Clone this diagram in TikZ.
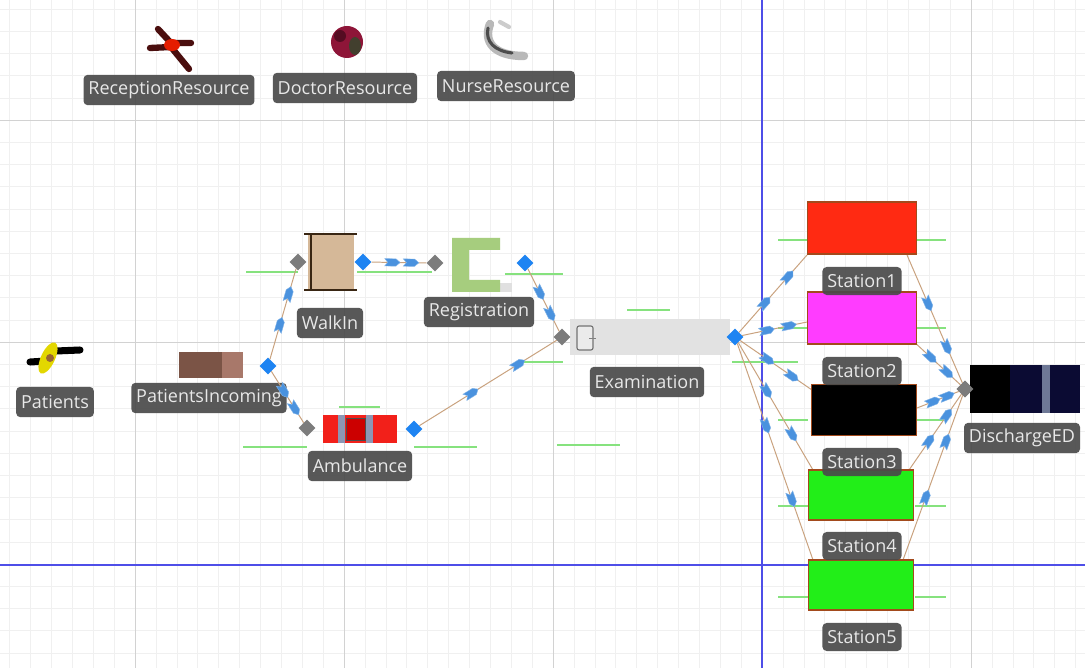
\documentclass[tikz,border=0pt]{standalone}
\usepackage{fontspec}
\setsansfont{Open Sans}
\usepackage{tikz}
\usetikzlibrary{shapes.geometric,decorations.markings,calc}

\definecolor{gridminor}{HTML}{F0F0F0}
\definecolor{gridmajor}{HTML}{D2D2D2}
\definecolor{axisblue}{HTML}{4E4EE8}
\definecolor{lblgray}{HTML}{4A4A4A}
\definecolor{lbltext}{HTML}{E8E8E8}
\definecolor{portblue}{HTML}{1E84F2}
\definecolor{portgray}{HTML}{7C7C7C}
\definecolor{linktan}{HTML}{C9A27E}
\definecolor{markblue}{HTML}{4A92DE}
\definecolor{zonegreen}{HTML}{86E27E}
\definecolor{stborder}{HTML}{A34A1C}
\definecolor{walktan}{HTML}{D5B898}
\definecolor{reggreen}{HTML}{A6CD7E}
\definecolor{examgray}{HTML}{E2E2E2}
\definecolor{ambred}{HTML}{F2201A}
\definecolor{ambstripe}{HTML}{8C96B4}
\definecolor{dischnavy}{HTML}{0B0B33}
\definecolor{dischstripe}{HTML}{6E7896}
\definecolor{incdark}{HTML}{7B5446}
\definecolor{inclight}{HTML}{A8786A}
\definecolor{stred}{HTML}{FF2A12}
\definecolor{stmagenta}{HTML}{FF3CFF}
\definecolor{stgreen}{HTML}{22EE18}
\definecolor{docred}{HTML}{8E1538}
\definecolor{recdark}{HTML}{4A0E0E}

% little arrow sitting on a flow connector
\newcommand{\flowmark}{%
  \fill[markblue,draw=markblue!70!white,line width=0.3pt]
    (-5.5pt,-2.6pt) -- (2.5pt,-2.6pt) -- (5.5pt,0) -- (2.5pt,2.6pt) -- (-5.5pt,2.6pt) -- (-3.2pt,0) -- cycle;}

\begin{document}
\begin{tikzpicture}[
    x=0.025cm, y=-0.025cm,
    lbl/.style={
        rectangle,
        rounded corners=3pt,
        fill=lblgray,
        fill opacity=0.92,
        text opacity=1,
        text=lbltext,
        font=\sffamily\fontsize{12.8}{14}\selectfont,
        minimum height=0.76cm,
        inner xsep=3.5pt
    },
    inport/.style={
        diamond,
        fill=portgray,
        minimum size=0.42cm,
        inner sep=0pt
    },
    outport/.style={
        diamond,
        fill=portblue,
        minimum size=0.42cm,
        inner sep=0pt
    },
    station/.style={
        rectangle,
        draw=stborder,
        line width=0.8pt,
        fill=#1,
        minimum width=2.72cm,
        minimum height=1.3cm,
        inner sep=0pt
    },
    link/.style={
        draw=linktan,
        line width=0.7pt,
        postaction={decorate},
        decoration={markings,
            mark=at position 0.38 with {\flowmark},
            mark=at position 0.72 with {\flowmark}}
    },
    zone/.style={
        draw=zonegreen,
        line width=0.9pt
    }
]

\useasboundingbox (0,0) rectangle (1085,668);
\fill[white] (0,0) rectangle (1085,668);

% ---- Background grid ----
\foreach \k in {-6,...,45}
    \draw[gridminor] ({135+\k*20.9},0) -- ({135+\k*20.9},668);
\foreach \k in {-5,...,24}
    \draw[gridminor] (0,{120+\k*22.2}) -- (1085,{120+\k*22.2});
\foreach \gx in {135,344,553,971}
    \draw[gridmajor] (\gx,0) -- (\gx,668);
\foreach \gy in {120,342}
    \draw[gridmajor] (0,\gy) -- (1085,\gy);
\draw[axisblue,line width=0.8pt] (762,0) -- (762,668);
\draw[axisblue,line width=0.8pt] (0,565) -- (1085,565);

% ---- Green guide lines ----
\draw[zone] (246,272) -- (298,272);
\draw[zone] (357,272) -- (432,272);
\draw[zone] (505,274) -- (563,274);
\draw[zone] (243,447) -- (307,447);
\draw[zone] (414,447) -- (477,447);
\draw[zone] (339,407) -- (380,407);
\draw[zone] (520,362) -- (563,362);
\draw[zone] (627,310) -- (670,310);
\draw[zone] (732,362) -- (798,362);
\draw[zone] (557,445) -- (620,445);
\foreach \gy in {240,328,420,506,597} {
    \draw[zone] (778,\gy) -- (808,\gy);
    \draw[zone] (915,\gy) -- (946,\gy);
}

% ---- Resources ----
% reception
\draw[recdark,line width=4.5pt,line cap=round] (158,29) -- (171,43) -- (191,43);
\draw[recdark,line width=4.5pt,line cap=round] (150,48) -- (171,47) -- (189,69);
\fill[red!75!orange!90!black] (172,45) ellipse (8 and 6);
% doctor
\fill[docred] (347,42) circle (16);
\fill[docred!60!black] (340,36) circle (6);
\fill[black!70!olive] (355,46) ellipse (6 and 9);
% nurse
\draw[gray!55,line width=6pt,line cap=round] (490,24) .. controls (483,42) and (494,56) .. (524,56);
\draw[black!70,line width=2.2pt,line cap=round] (488,28) .. controls (485,42) and (495,51) .. (512,53);
\draw[gray!40,line width=3pt,line cap=round] (500,22) -- (509,27);

\node[lbl] (recLbl)   at (169,90) {ReceptionResource};
\node[lbl] (docLbl)   at (345,88) {DoctorResource};
\node[lbl] (nurseLbl) at (506,86) {NurseResource};

% ---- Source side ----
\draw[black,line width=5pt,line cap=round] (30,362) -- (47,361);
\draw[black,line width=5pt,line cap=round] (56,351) -- (80,350);
\fill[yellow!75!olive,rotate around={-25:(48,358)}] (48,358) ellipse (7 and 17);
\fill[brown!80!black] (50,358) circle (4);
\node[lbl] (patLbl) at (55,402) {Patients};

\node[rectangle,fill=incdark,minimum width=1.58cm,minimum height=0.65cm,inner sep=0pt] (pinc) at (211,365) {};
\fill[inclight] ($(pinc.north east)+(-21,0)$) rectangle (pinc.south east);
\node[lbl] (pincLbl) at (209,398) {PatientsIncoming};
\node[outport] (pincOut) at (268,366) {};

% ---- Walk-in and registration ----
\node[rectangle,fill=walktan,minimum width=1.15cm,minimum height=1.4cm,inner sep=0pt] (walkin) at (331,262) {};
\draw[black!70!brown,line width=1.6pt] (304,234) -- (357,234);
\draw[black!70!brown,line width=1.6pt] (304,290) -- (357,290);
\draw[black!70!brown,line width=1pt] (311,234) -- (311,290);
\node[lbl] (walkLbl) at (330,323) {WalkIn};
\node[inport]  (walkIn)  at (298,262) {};
\node[outport] (walkOut) at (363,262) {};

\fill[black!12] (496,283) rectangle (512,292);
\fill[reggreen] (452,238) -- (500,238) -- (500,250) -- (469,250) -- (469,280)
    -- (500,280) -- (500,292) -- (452,292) -- cycle;
\node[lbl] (regLbl) at (479,312) {Registration};
\node[inport]  (regIn)  at (435,263) {};
\node[outport] (regOut) at (525,263) {};

% ---- Ambulance ----
\node[rectangle,fill=ambred,minimum width=1.85cm,minimum height=0.7cm,inner sep=0pt] (amb) at (360,429) {};
\fill[ambstripe] (338,415) rectangle (345,443);
\fill[ambstripe] (366,415) rectangle (373,443);
\draw[black!70,fill=red!80!black] (346,418) rectangle (365,440);
\node[lbl] (ambLbl) at (360,466) {Ambulance};
\node[inport]  (ambIn)  at (307,428) {};
\node[outport] (ambOut) at (414,429) {};

% ---- Examination ----
\node[rectangle,fill=examgray,minimum width=4cm,minimum height=0.88cm,inner sep=0pt] (exam) at (650,337) {};
\draw[gray!90!black,fill=white!92!black,rounded corners=1.5pt,line width=0.8pt] (577,326) rectangle (593,350);
\draw[gray,line width=0.6pt] (589,338) -- (596,338);
\node[lbl] (examLbl) at (647,382) {Examination};
\node[inport]  (examIn)  at (562,337) {};
\node[outport] (examOut) at (735,337) {};

% ---- Treatment stations ----
\coordinate (s1) at (862,228);
\coordinate (s2) at (862,318);
\coordinate (s3) at (864,410);
\coordinate (s4) at (861,495);
\coordinate (s5) at (861,585);

% ---- Flows (under the station blocks) ----
\draw[link] (pincOut) -- (walkIn);
\draw[link] (pincOut) -- (ambIn);
\draw[link] (walkOut) -- (regIn);
\draw[link] (regOut)  -- (examIn);
\draw[link] (ambOut)  -- (examIn);

\draw[link] (examOut) -- ($(s1)+(-55,27)$);
\draw[link] (examOut) -- ($(s2)+(-55,4)$);
\draw[link] (examOut) -- ($(s3)+(-52,-20)$);
\draw[link] (examOut) -- ($(s4)+(-48,-25)$);
\draw[link] (examOut) -- ($(s5)+(-48,-25)$);

\node[inport] (dischIn) at (965,389) {};
\draw[link] ($(s1)+(45,27)$)  -- (dischIn);
\draw[link] ($(s2)+(50,22)$)  -- (dischIn);
\draw[link] ($(s3)+(53,-2)$)  -- (dischIn);
\draw[link] ($(s4)+(48,-25)$) -- (dischIn);
\draw[link] ($(s5)+(42,-25)$) -- (dischIn);

\node[station=stred]     (st1) at (s1) {};
\node[station=stmagenta] (st2) at (s2) {};
\node[station=black,minimum width=2.62cm,minimum height=1.27cm]   (st3) at (s3) {};
\node[station=stgreen,minimum width=2.62cm,minimum height=1.25cm] (st4) at (s4) {};
\node[station=stgreen,minimum width=2.62cm,minimum height=1.25cm] (st5) at (s5) {};

% ---- Discharge ----
\node[rectangle,fill=black,minimum width=2.75cm,minimum height=1.2cm,inner sep=0pt] (disch) at (1025,389) {};
\fill[dischnavy] ($(disch.north west)+(40,0)$) rectangle (disch.south east);
\fill[dischstripe] ($(disch.north west)+(72,0)$) rectangle ($(disch.south west)+(80,0)$);
\node[inport] at (dischIn) {};

% ---- Station labels (on top of the blocks) ----
\node[lbl,minimum height=0.7cm] (st1Lbl) at (862,281) {Station1};
\node[lbl,minimum height=0.7cm] (st2Lbl) at (862,371) {Station2};
\node[lbl,minimum height=0.7cm] (st3Lbl) at (862,462) {Station3};
\node[lbl,minimum height=0.7cm] (st4Lbl) at (862,546) {Station4};
\node[lbl,minimum height=0.7cm] (st5Lbl) at (862,637) {Station5};
\node[lbl] (dischLbl) at (1022,438) {DischargeED};

\end{tikzpicture}
\end{document}
